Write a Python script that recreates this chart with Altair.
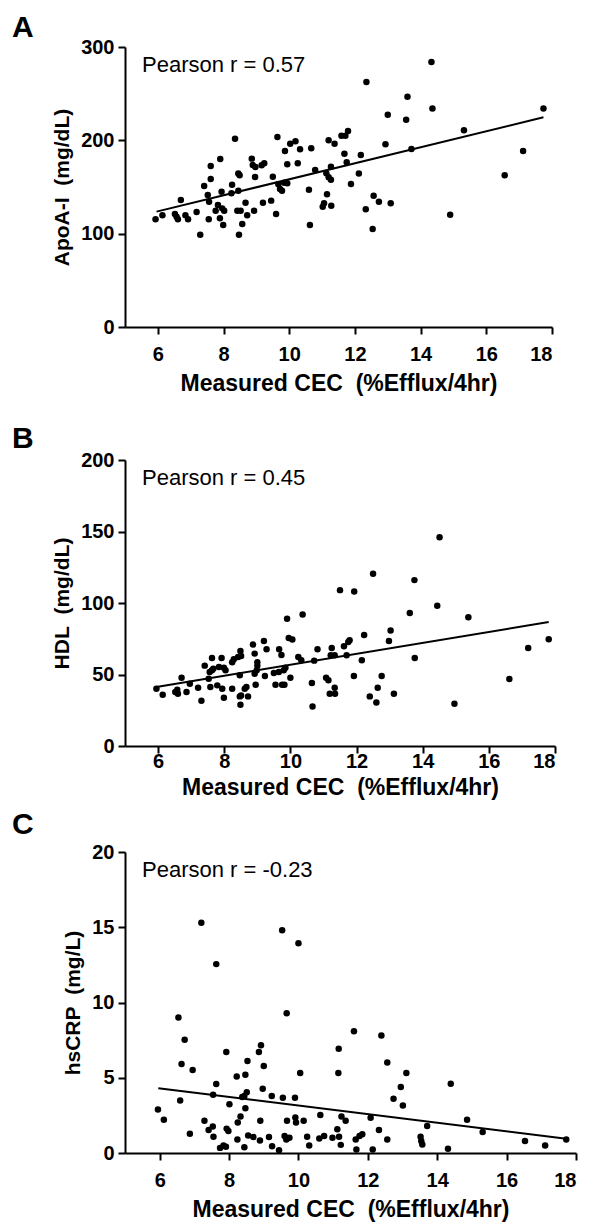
import altair as alt
import pandas as pd

FONT = "Liberation Sans"

# ---------------- Panel A : ApoA-I ----------------
a_cec = [14.33, 12.35, 13.6, 14.36, 17.74, 13.0, 13.56, 15.32, 11.79, 11.59, 11.71, 8.35, 9.64, 10.19,
         10.03, 11.2, 11.38, 12.93, 13.72, 17.12, 9.87, 10.33, 10.67, 11.68, 12.18, 7.9, 8.86, 7.61,
         8.89, 8.97, 9.16, 9.24, 9.94, 10.26, 11.75, 11.27, 10.79, 16.56, 12.12, 8.45, 8.49, 8.96,
         9.5, 11.13, 11.2, 11.27, 7.61, 7.41, 8.26, 9.67, 9.85, 9.94, 9.72, 9.78, 10.6, 11.88, 11.15,
         7.52, 7.94, 8.24, 8.45, 12.57, 6.7, 5.93, 6.14, 6.52, 6.57, 6.61, 6.84, 6.92, 7.18, 7.29,
         7.56, 7.55, 7.76, 7.83, 7.89, 7.96, 7.99, 8.02, 8.42, 8.47, 8.52, 8.57, 8.67, 8.72, 8.93,
         9.2, 9.45, 9.6, 10.63, 11.02, 11.06, 11.28, 12.33, 12.54, 12.73, 13.09, 14.9]
a_apoa = [284, 262.5, 246.8, 234, 234, 227.5, 222, 210.7, 210, 205, 205, 201.7, 203.6, 199,
          196.4, 200, 196.4, 195.7, 190.7, 188.6, 188.6, 190.4, 191.4, 185.7, 184.3, 180, 180.4, 172.5,
          173.6, 171.4, 173.2, 175.4, 174.3, 175.4, 176.4, 171.8, 168.2, 162.5, 164.4, 164.4, 162.5, 160.7,
          161, 164.6, 160.4, 157.8, 158.6, 151, 152.5, 153, 154.6, 154, 147.9, 146, 147.1, 153.2, 142.2,
          141.4, 145, 143.2, 146, 140.7, 136, 115.4, 119.7, 121.1, 118.2, 115.4, 119.7, 115.4, 123.2, 98.9,
          134.3, 115.4, 124.6, 130.7, 116.5, 127.1, 109.3, 124.6, 124.6, 98.9, 124.6, 110.4, 133.2, 119.7, 124.6,
          133.2, 135.4, 121.1, 109.3, 128.9, 132.5, 130, 126.1, 105, 134.3, 132.5, 120.3]
a_fit_cec = [5.96, 17.74]
a_fit_val = [123.6, 224.7]

# ---------------- Panel B : HDL ----------------
b_cec = [14.51, 12.5, 13.75, 11.5, 11.93, 14.44, 15.38, 13.61, 10.37, 9.9,
         9.95, 10.06, 17.81, 12.23, 13.03, 12.98, 17.19,
         8.87, 9.2, 9.28, 8.92, 9.66, 9.73, 8.49, 8.51, 8.29, 8.24, 7.63, 7.92, 7.41, 7.56, 7.63,
         7.84, 7.99, 8.04, 9.0, 9.0, 10.24, 10.33, 10.72, 10.82, 11.25, 11.34, 11.62, 11.75, 11.79,
         11.7, 12.16, 13.76, 11.22,
         11.08, 11.15, 11.19, 11.35, 11.34, 11.92, 12.76, 12.64, 12.4, 12.6, 13.13, 14.96, 16.62,
         10.65, 10.67, 10.0, 9.55, 9.75, 9.82, 9.5, 9.65, 9.8, 9.85, 9.23, 8.95, 8.92, 8.98, 8.67,
         8.62, 8.72, 8.47, 8.51, 8.49, 8.47, 8.24, 7.99, 7.94, 7.79, 7.58, 7.53, 7.31, 7.21, 6.96,
         6.86, 6.71, 6.58, 6.52, 6.6, 6.14, 5.95, 7.67, 8.42]
b_hdl = [146, 120.5, 116, 109, 108, 98, 90, 93, 92, 89,
         75.5, 74.5, 74.6, 77.6, 80.7, 73.4, 68.5,
         70.9, 73.5, 67.6, 64.6, 67.6, 63.6, 66.4, 62.9, 60.6, 58.5, 61.5, 61.5, 56.2, 51.7, 52.9,
         55.2, 54.8, 52.9, 58.5, 56.2, 62.2, 59.9, 59.7, 67.6, 68.5, 63.4, 69.7, 72.7, 73.9,
         63.4, 59.9, 61.5, 63.4,
         47.8, 45.9, 36.6, 36.6, 40.8, 49, 49, 40.8, 34.7, 30.5, 36.6, 29.6, 46.9,
         44.1, 27.7, 47.8, 42.9, 42.9, 42.9, 51, 51.7, 52.9, 54.8, 49, 42.9, 50.6, 52.9, 41.3,
         40.1, 34.7, 34.7, 35.4, 28.9, 49.4, 40.1, 33.8, 40.1, 42.4, 41.3, 47, 31.7, 40.8, 43.6,
         37.8, 47.8, 39.4, 37.8, 36.6, 35.9, 40.1, 54, 62.3]
b_fit_cec = [5.95, 17.81]
b_fit_val = [41.3, 86.7]

# ---------------- Panel C : hsCRP ----------------
c_cec = [7.2, 7.63, 9.53, 10.0,
         6.54, 6.72, 6.63, 6.95, 6.59, 5.95, 7.92, 7.63, 7.54, 8.01, 8.22, 8.47, 8.53, 8.86, 8.92,
         9.0, 8.97, 8.51, 8.44, 8.38, 8.47, 9.23, 9.55, 9.9, 9.66, 10.05, 11.16, 11.15, 11.6, 12.39,
         12.56, 13.11, 12.95, 12.74, 13.01, 14.39,
         6.12, 7.29, 7.41, 7.53, 7.55, 7.93, 7.98, 8.25, 8.33, 8.9, 9.67, 9.91, 9.93, 10.15, 10.63,
         11.24, 11.36, 6.87, 8.24, 8.55, 8.7, 8.89, 9.15, 9.24, 9.44, 8.44, 7.74, 7.84, 7.91, 9.6,
         9.65, 9.74, 10.25, 10.31, 10.6, 10.74, 10.98, 11.12, 11.17, 11.22, 11.65, 11.67, 11.76,
         11.84, 12.08, 12.32, 12.56, 12.14, 13.52, 13.54, 13.57, 14.31, 13.71, 14.86, 15.31, 16.53,
         17.11, 17.72]
c_crp = [15.3, 12.55, 14.8, 13.93,
         9.0, 7.53, 5.91, 5.51, 3.49, 2.89, 6.71, 4.58, 3.87, 3.24, 5.09, 5.2, 6.11, 6.71, 7.16,
         5.78, 4.27, 4.04, 3.78, 3.72, 2.98, 3.78, 3.67, 3.67, 9.29, 5.31, 6.93, 5.31, 8.09, 7.8,
         6.02, 5.31, 4.38, 3.6, 3.16, 4.6,
         2.21, 2.14, 1.53, 1.76, 1.08, 1.62, 1.46, 2.03, 2.43, 2.14, 2.14, 2.36, 2.03, 2.14, 2.52,
         2.43, 2.14, 1.28, 0.9, 1.17, 1.06, 0.83, 1.06, 0.45, 0.18, 0.38, 0.34, 0.5, 0.41, 1.13,
         0.9, 1.01, 1.08, 0.5, 0.97, 1.13, 1.01, 1.58, 1.08, 0.54, 0.9, 0.23, 1.13,
         1.24, 2.34, 1.53, 0.9, 0.23, 1.08, 0.79, 0.56, 0.29, 1.8, 2.21, 1.4, 0.79,
         0.5, 0.9]
c_fit_cec = [5.96, 17.72]
c_fit_val = [4.3, 0.95]

x_ticks = [6, 8, 10, 12, 14, 16, 18]
x_title = "Measured CEC\u00a0\u00a0(%Efflux/4hr)"


def panel(xs, ys, fx, fy, letter, r_text, ytitle, ydomain, yticks, w, h,
          lab_pad, xtitle_pad, letter_dy):
    df = pd.DataFrame({"cec": xs, "val": ys})
    fit = pd.DataFrame({"cec": fx, "val": fy})
    xenc = alt.X("cec:Q",
                 scale=alt.Scale(domain=[5, 18], nice=False, zero=False),
                 axis=alt.Axis(values=x_ticks, title=x_title, labelPadding=lab_pad,
                               titlePadding=xtitle_pad, titleFontSize=23))
    yenc = alt.Y("val:Q",
                 scale=alt.Scale(domain=ydomain, nice=False, zero=True),
                 axis=alt.Axis(values=yticks, title=ytitle))
    pts = alt.Chart(df).mark_circle(size=42, color="black", opacity=1).encode(x=xenc, y=yenc)
    line = alt.Chart(fit).mark_line(color="black", strokeWidth=2).encode(x="cec:Q", y="val:Q")
    txt = alt.Chart(pd.DataFrame({"t": [r_text]})).mark_text(
        align="left", baseline="alphabetic", fontSize=22, font=FONT, color="black"
    ).encode(x=alt.value(17), y=alt.value(25), text="t:N")
    let = alt.Chart(pd.DataFrame({"t": [letter]})).mark_text(
        align="left", baseline="top", fontSize=30, font=FONT, fontWeight="bold", color="black"
    ).encode(x=alt.value(-113), y=alt.value(letter_dy), text="t:N")
    return alt.layer(pts, line, txt, let).properties(width=w, height=h)


pa = panel(a_cec, a_apoa, a_fit_cec, a_fit_val, "A", "Pearson r = 0.57",
           "ApoA-I\u00a0\u00a0(mg/dL)", [0, 300], [0, 100, 200, 300], 427, 280, 10, 8, -34)
pb = panel(b_cec, b_hdl, b_fit_cec, b_fit_val, "B", "Pearson r = 0.45",
           "HDL\u00a0\u00a0(mg/dL)", [0, 200], [0, 50, 100, 150, 200], 430, 286, -2, 5, -36)
pc = panel(c_cec, c_crp, c_fit_cec, c_fit_val, "C", "Pearson r = -0.23",
           "hsCRP\u00a0\u00a0(mg/L)", [0, 20], [0, 5, 10, 15, 20], 451, 301, 10, 8, -42)

top_two = alt.vconcat(pa, pb, spacing=29).resolve_scale(x="independent", y="independent")
chart = alt.vconcat(top_two, pc, spacing=11).resolve_scale(
    x="independent", y="independent"
).properties(
    padding={"left": 12, "top": 13, "right": 2, "bottom": 4},
    background="white",
).configure_view(stroke=None).configure_axis(
    domainColor="black", domainWidth=2, tickColor="black", tickWidth=2, tickSize=7,
    labelFont=FONT, labelFontSize=20, labelFontWeight="bold", labelColor="black",
    titleFont=FONT, titleFontSize=21, titleFontWeight="bold", titleColor="black",
    grid=False,
).configure_axisY(titlePadding=8, labelPadding=4)

chart.save("out.html", embed_options={"renderer": "svg", "actions": False})
